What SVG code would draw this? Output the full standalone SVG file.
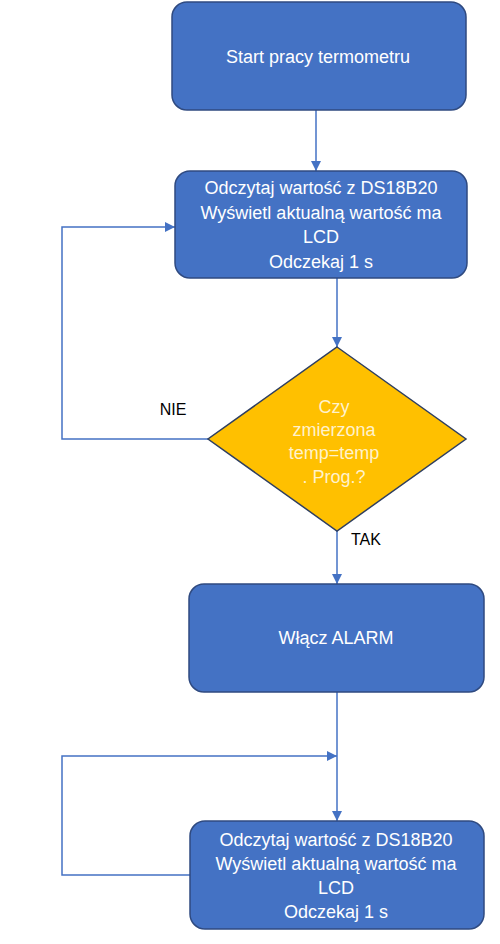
<svg xmlns="http://www.w3.org/2000/svg" width="500" height="944" viewBox="0 0 500 944">
<style>
.box{fill:#4472C4;stroke:#2F4A80;stroke-width:1.5}
.dia{fill:#FFC000;stroke:#2F3F60;stroke-width:1.5}
.t{font-family:"Liberation Sans",Arial,sans-serif;font-size:18px;fill:#FFFFFF;text-anchor:middle}
.dt{font-family:"Liberation Sans",Arial,sans-serif;font-size:18px;fill:#FFF2CC;text-anchor:middle}
.lbl{font-family:"Liberation Sans",Arial,sans-serif;font-size:16px;fill:#000000;text-anchor:middle}
.c{fill:none;stroke:#4472C4;stroke-width:1.5}
</style>
<defs>
<marker id="ah" viewBox="0 0 10 10" refX="10" refY="5" markerWidth="10" markerHeight="10" markerUnits="userSpaceOnUse" orient="auto">
<path d="M0,0 L10,5 L0,10 z" fill="#4472C4"/>
</marker>
</defs>
<rect width="500" height="944" fill="#FFFFFF"/>
<g id="connectors">
<path class="c" d="M316,110 V171" marker-end="url(#ah)"/>
<path class="c" d="M337,278 V347" marker-end="url(#ah)"/>
<path class="c" d="M208,439 H62 V227 H175" marker-end="url(#ah)"/>
<path class="c" d="M337,531 V584" marker-end="url(#ah)"/>
<path class="c" d="M337,692 V821" marker-end="url(#ah)"/>
<path class="c" d="M190,875 H62 V756 H337" marker-end="url(#ah)"/>
<text class="lbl" x="173" y="415">NIE</text>
<text class="lbl" x="366" y="545">TAK</text>
</g>
<g id="start">
<rect class="box" x="172" y="2" width="294" height="108" rx="15"/>
<text class="t" x="318" y="63">Start pracy termometru</text>
</g>
<g id="read1">
<rect class="box" x="175" y="171" width="292" height="107" rx="15"/>
<text class="t" x="321" y="194">Odczytaj wartość z DS18B20</text>
<text class="t" x="321" y="218.5">Wyświetl aktualną wartość ma</text>
<text class="t" x="321" y="243">LCD</text>
<text class="t" x="321" y="267.5">Odczekaj 1 s</text>
</g>
<g id="decision">
<polygon class="dia" points="337,347 466,439 337,531 208,439"/>
<text class="dt" x="334" y="413">Czy</text>
<text class="dt" x="334" y="436">zmierzona</text>
<text class="dt" x="334" y="459">temp=temp</text>
<text class="dt" x="334" y="483">. Prog.?</text>
</g>
<g id="alarm">
<rect class="box" x="189" y="584" width="295" height="108" rx="15"/>
<text class="t" x="336" y="644">Włącz ALARM</text>
</g>
<g id="read2">
<rect class="box" x="190" y="821" width="294" height="108" rx="15"/>
<text class="t" x="336" y="846">Odczytaj wartość z DS18B20</text>
<text class="t" x="336" y="870">Wyświetl aktualną wartość ma</text>
<text class="t" x="336" y="894">LCD</text>
<text class="t" x="336" y="918">Odczekaj 1 s</text>
</g>
</svg>
